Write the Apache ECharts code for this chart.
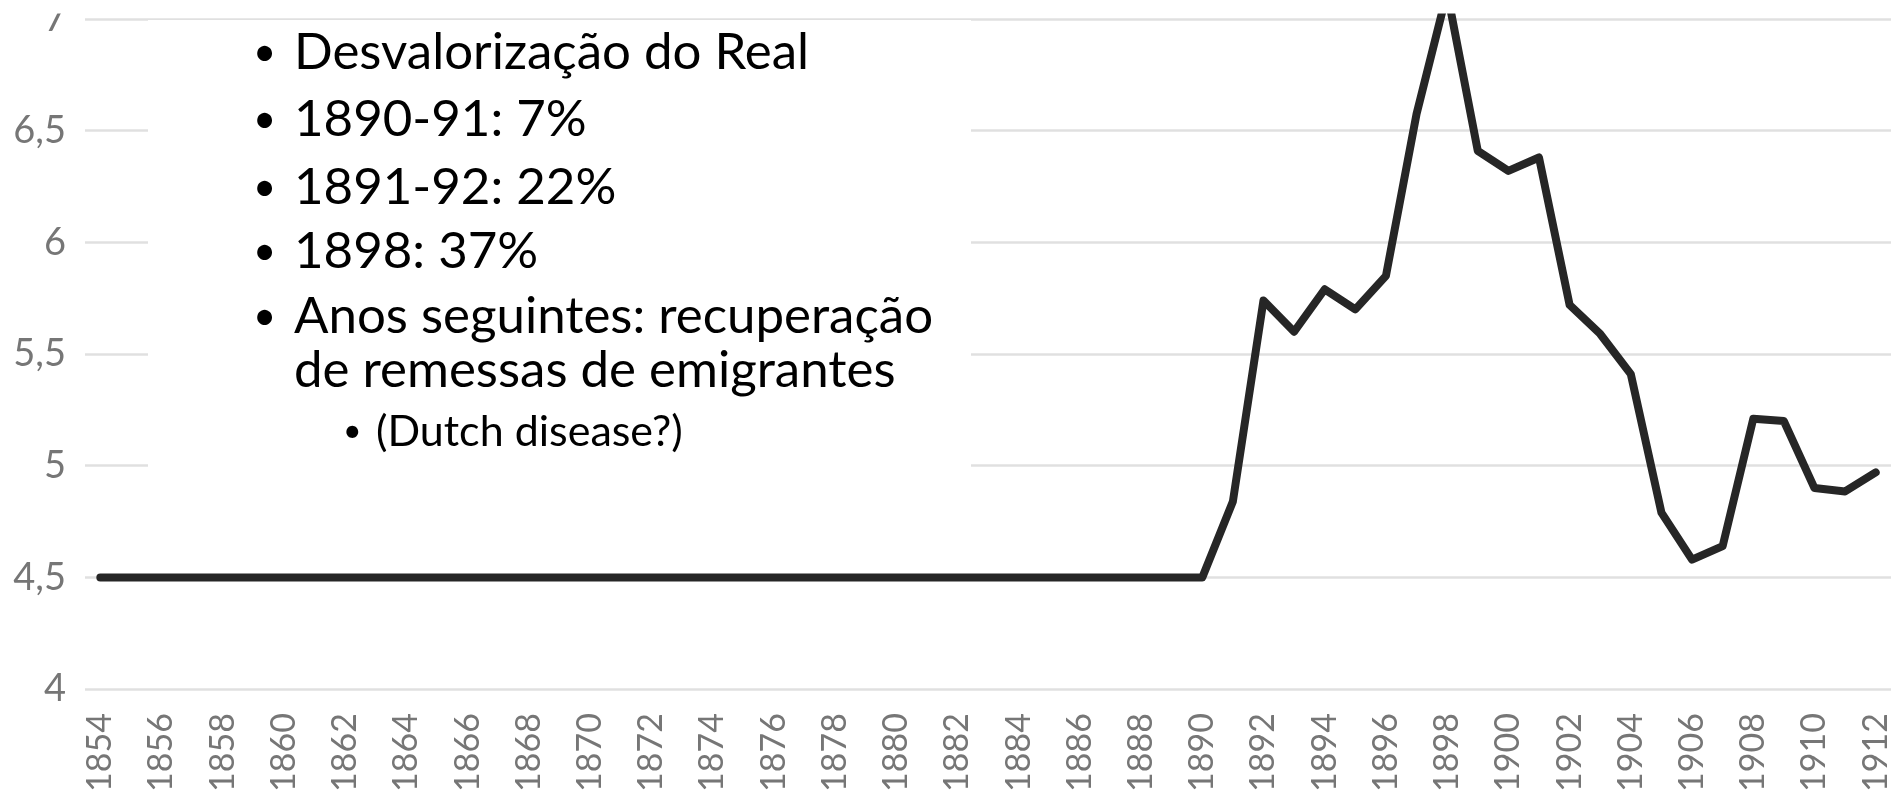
<!DOCTYPE html>
<html>
<head>
<meta charset="utf-8">
<script src="https://cdn.jsdelivr.net/npm/echarts@6/dist/echarts.min.js"></script>
<style>
  html, body { margin: 0; padding: 0; background: #ffffff; }
  #chart { width: 1899px; height: 795px; }
</style>
</head>
<body>
<div id="chart"></div>
<script>
// ---- data ----
const years = [
  '1854','1855','1856','1857','1858','1859','1860','1861','1862','1863',
  '1864','1865','1866','1867','1868','1869','1870','1871','1872','1873',
  '1874','1875','1876','1877','1878','1879','1880','1881','1882','1883',
  '1884','1885','1886','1887','1888','1889','1890','1891','1892','1893',
  '1894','1895','1896','1897','1898','1899','1900','1901','1902','1903',
  '1904','1905','1906','1907','1908','1909','1910','1911','1912'
];
const rate = [
  4.5, 4.5, 4.5, 4.5, 4.5, 4.5, 4.5, 4.5, 4.5, 4.5,
  4.5, 4.5, 4.5, 4.5, 4.5, 4.5, 4.5, 4.5, 4.5, 4.5,
  4.5, 4.5, 4.5, 4.5, 4.5, 4.5, 4.5, 4.5, 4.5, 4.5,
  4.5, 4.5, 4.5, 4.5, 4.5, 4.5, 4.5, 4.84, 5.74, 5.60,
  5.79, 5.70, 5.85, 6.575, 7.12, 6.41, 6.32, 6.38, 5.72, 5.59,
  5.41, 4.79, 4.58, 4.64, 5.21, 5.20, 4.90, 4.885, 4.97
];
const yMin = 4, yMax = 7, yStep = 0.5;

const mainBullets = [
  'Desvalorização do Real',
  '1890-91: 7%',
  '1891-92: 22%',
  '1898: 37%',
  'Anos seguintes: recuperação'
];
const continuationLine = 'de remessas de emigrantes';
const subBullet = '(Dutch disease?)';

// ---- layout ----
const FONT = 'Lato, "Open Sans", sans-serif';
const mainY = [53, 120, 188, 252, 317];
const contY = 371;
const subY = 432;

const graphics = [];
// top white band (reference image is cropped just above the 7 gridline)
graphics.push({
  type: 'rect', z: 100,
  shape: { x: 0, y: 0, width: 1899, height: 13.5 },
  style: { fill: '#ffffff' }
});
// text box background
graphics.push({
  type: 'rect', z: 90,
  shape: { x: 148, y: 20, width: 823, height: 455 },
  style: { fill: '#ffffff' }
});
mainBullets.forEach(function (t, i) {
  graphics.push({
    type: 'text', z: 95,
    style: { text: '•', x: 253, y: mainY[i], fontSize: 40, fontFamily: FONT, fill: '#000', verticalAlign: 'middle' }
  });
  graphics.push({
    type: 'text', z: 95,
    style: { text: t, x: 294, y: mainY[i], fontSize: 51, fontFamily: FONT, fill: '#000', verticalAlign: 'middle' }
  });
});
graphics.push({
  type: 'text', z: 95,
  style: { text: continuationLine, x: 294, y: contY, fontSize: 51, fontFamily: FONT, fill: '#000', verticalAlign: 'middle' }
});
graphics.push({
  type: 'text', z: 95,
  style: { text: '•', x: 343, y: subY, fontSize: 32, fontFamily: FONT, fill: '#000', verticalAlign: 'middle' }
});
graphics.push({
  type: 'text', z: 95,
  style: { text: subBullet, x: 376, y: subY, fontSize: 43, fontFamily: FONT, fill: '#000', verticalAlign: 'middle' }
});

const chart = echarts.init(document.getElementById('chart'), null, { renderer: 'canvas' });
chart.setOption({
  animation: false,
  backgroundColor: '#ffffff',
  grid: { left: 85, right: 8, top: 15, bottom: 105, containLabel: false },
  xAxis: {
    type: 'category',
    data: years,
    boundaryGap: true,
    axisLine: { show: false },
    axisTick: { show: false },
    axisLabel: {
      interval: 1,
      rotate: 90,
      margin: 24,
      color: '#767676',
      fontSize: 34,
      fontFamily: FONT
    },
    splitLine: { show: false }
  },
  yAxis: {
    type: 'value',
    min: yMin,
    max: yMax,
    interval: yStep,
    axisLine: { show: false },
    axisTick: { show: false },
    axisLabel: {
      margin: 19,
      color: '#767676',
      fontSize: 38,
      fontFamily: FONT,
      formatter: function (v) { return String(v).replace('.', ','); }
    },
    splitLine: { show: true, lineStyle: { color: '#e0e0e0', width: 2.5 } }
  },
  series: [{
    type: 'line',
    data: rate,
    symbol: 'none',
    clip: false,
    lineStyle: { color: '#262626', width: 8, cap: 'round', join: 'round' }
  }],
  graphic: { elements: graphics }
});
</script>
</body>
</html>
